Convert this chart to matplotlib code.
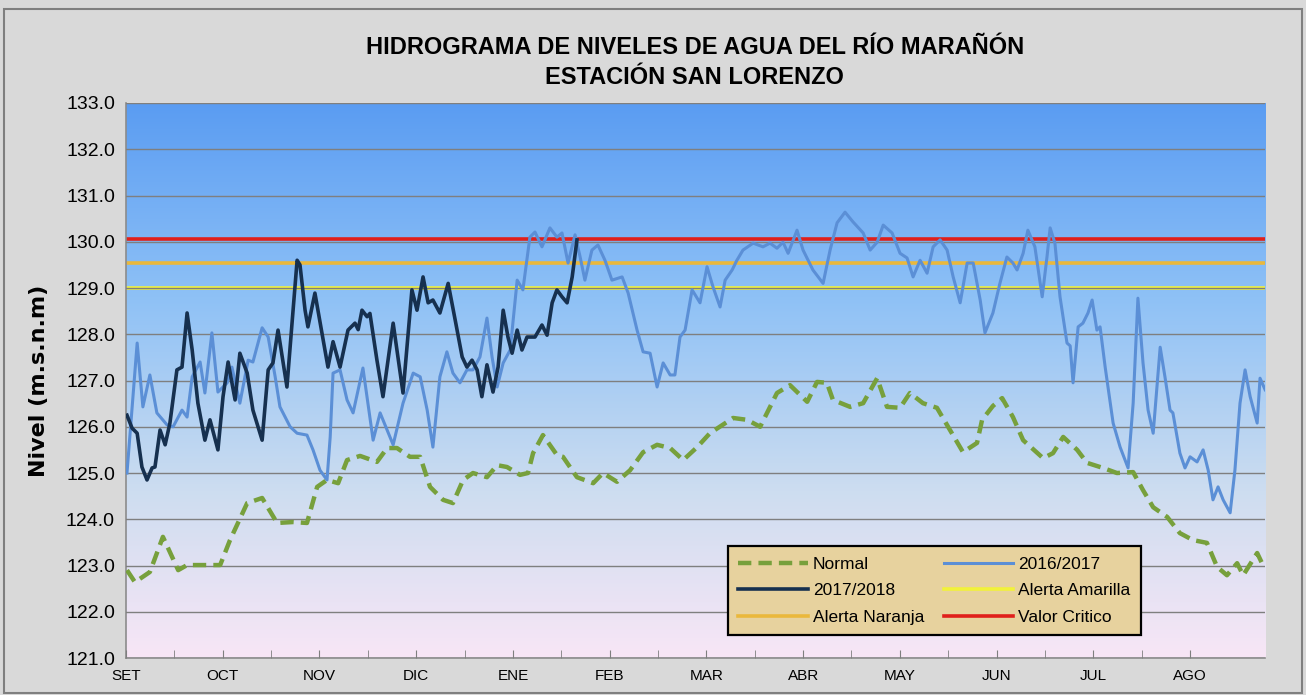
"""Hidrograma de niveles de agua del río Marañón - estación San Lorenzo."""
import numpy as np
import matplotlib

matplotlib.use("Agg")
import matplotlib.pyplot as plt  # noqa: E402
from matplotlib.colors import LinearSegmentedColormap  # noqa: E402
from matplotlib.patches import Rectangle  # noqa: E402

plt.rcParams["font.family"] = ["Liberation Sans", "DejaVu Sans"]

# --- datos (día desde el 1 de setiembre, nivel en m.s.n.m) ---
MONTHS = ["SET", "OCT", "NOV", "DIC", "ENE", "FEB", "MAR", "ABR", "MAY", "JUN", "JUL", "AGO"]

normal_day = [0.3, 2.8, 7.5, 11.6, 16.4, 19.2, 25.5, 29.6, 32.7, 38.1, 42.8, 47.5, 52.5, 56.9,
              60.1, 63.2, 66.7, 69.5, 73.6, 78.9, 82.1, 85.2, 89.3, 92.5, 95.6, 99.7, 102.8,
              106.0, 109.1, 113.5, 116.7, 119.8, 123.9, 126.4, 128.0, 131.1, 135.5, 137.4,
              141.8, 146.9, 150.0, 154.4, 158.5, 162.6, 167.0, 171.1, 175.2, 179.6, 183.6,
              190.9, 195.3, 199.4, 204.7, 208.8, 214.2, 217.3, 220.4, 222.3, 227.7, 231.8,
              236.2, 239.3, 243.4, 246.5, 250.6, 255.0, 259.1, 263.2, 267.6, 269.2, 272.6,
              275.5, 278.9, 282.1, 288.4, 291.5, 294.7, 299.1, 302.2, 307.2, 311.6, 316.7,
              319.8, 323.0, 327.4, 331.4, 335.5, 339.9, 343.1, 346.2, 349.4, 351.3, 355.7, 357.5]
normal_lvl = [122.90, 122.64, 122.86, 123.62, 122.90, 123.01, 123.01, 123.01, 123.55, 124.35,
              124.46, 123.92, 123.94, 123.92, 124.70, 124.85, 124.78, 125.28, 125.37, 125.24,
              125.54, 125.54, 125.35, 125.35, 124.70, 124.42, 124.35, 124.85, 125.00, 124.91,
              125.17, 125.13, 124.96, 125.00, 125.43, 125.82, 125.39, 125.35, 124.91, 124.78,
              125.00, 124.81, 125.06, 125.45, 125.61, 125.54, 125.28, 125.56, 125.86, 126.19,
              126.15, 126.00, 126.73, 126.90, 126.54, 126.97, 126.95, 126.58, 126.43, 126.51,
              127.05, 126.43, 126.41, 126.73, 126.51, 126.41, 125.93, 125.45, 125.65, 126.15,
              126.45, 126.62, 126.21, 125.71, 125.32, 125.43, 125.78, 125.50, 125.22, 125.11,
              125.00, 125.02, 124.63, 124.26, 124.05, 123.70, 123.55, 123.49, 122.97, 122.79,
              123.05, 122.79, 123.27, 123.01]

y1617_day = [0.3, 3.5, 5.3, 7.5, 9.7, 12.9, 14.8, 17.6, 19.2, 20.8, 23.3, 24.8, 27.0, 28.9,
             31.8, 33.3, 35.8, 38.4, 39.9, 42.8, 44.7, 46.9, 48.4, 51.6, 53.8, 56.9, 58.8,
             61.0, 63.2, 64.2, 65.1, 67.3, 69.5, 71.4, 74.5, 77.7, 79.9, 82.1, 84.0, 87.1,
             90.3, 92.5, 94.7, 96.5, 98.7, 100.9, 102.8, 105.0, 107.2, 109.1, 111.3, 113.5,
             115.1, 116.7, 118.6, 120.8, 123.0, 124.8, 127.0, 128.6, 130.8, 133.3, 135.5,
             137.1, 139.0, 141.2, 142.8, 144.3, 146.5, 148.4, 150.6, 152.8, 156.0, 157.9,
             160.7, 162.6, 164.8, 167.0, 168.9, 171.1, 172.6, 174.2, 175.8, 178.0, 180.5,
             182.7, 184.6, 186.8, 188.4, 190.6, 192.1, 194.0, 197.2, 200.3, 202.5, 204.7,
             206.6, 208.2, 211.0, 212.9, 216.0, 219.2, 221.4, 223.6, 226.1, 228.6, 231.8,
             234.0, 236.2, 238.1, 240.9, 243.4, 245.6, 247.5, 249.7, 251.9, 253.8, 256.0,
             258.2, 260.1, 262.3, 264.5, 266.4, 268.6, 270.1, 272.6, 274.8, 277.0, 278.9,
             280.2, 282.1, 283.6, 285.8, 288.1, 289.6, 290.6, 292.1, 293.7, 295.9, 296.9,
             297.8, 299.4, 300.9, 302.5, 303.8, 305.3, 306.3, 307.9, 310.4, 312.6, 315.1,
             316.7, 318.2, 319.8, 321.4, 323.0, 325.2, 326.7, 328.3, 329.2, 331.4, 333.0,
             334.6, 336.8, 338.7, 340.3, 341.8, 343.4, 345.0, 347.2, 348.7, 350.3, 351.9,
             353.5, 355.7, 356.6, 358.2]
y1617_lvl = [125.00, 127.81, 126.43, 127.12, 126.30, 126.04, 126.00, 126.36, 126.21, 127.08,
             127.40, 126.73, 128.03, 126.75, 126.95, 127.29, 126.51, 127.44, 127.40, 128.14,
             127.94, 127.08, 126.43, 126.00, 125.86, 125.82, 125.50, 125.06, 124.85, 125.78,
             127.16, 127.23, 126.58, 126.30, 127.27, 125.71, 126.30, 125.93, 125.61, 126.51,
             127.16, 127.08, 126.36, 125.56, 127.08, 127.62, 127.16, 126.95, 127.23, 127.23,
             127.51, 128.35, 127.51, 126.86, 127.38, 127.66, 129.17, 128.96, 130.10, 130.21,
             129.89, 130.30, 130.10, 130.19, 129.54, 130.15, 129.67, 129.17, 129.82, 129.93,
             129.60, 129.17, 129.24, 128.89, 128.09, 127.62, 127.59, 126.86, 127.38, 127.12,
             127.12, 127.94, 128.09, 128.96, 128.68, 129.46, 129.02, 128.59, 129.17, 129.39,
             129.60, 129.82, 129.97, 129.89, 129.97, 129.86, 129.99, 129.75, 130.25, 129.82,
             129.39, 129.10, 129.82, 130.41, 130.64, 130.43, 130.19, 129.82, 129.99, 130.36,
             130.19, 129.75, 129.65, 129.24, 129.60, 129.32, 129.89, 130.04, 129.82, 129.24,
             128.68, 129.54, 129.54, 128.74, 128.03, 128.46, 129.10, 129.67, 129.54, 129.39,
             129.75, 130.25, 129.89, 128.81, 129.67, 130.30, 129.97, 128.81, 127.81, 127.75,
             126.95, 128.16, 128.24, 128.46, 128.74, 128.09, 128.16, 127.29, 126.08, 125.56,
             125.11, 126.51, 128.78, 127.38, 126.36, 125.86, 127.72, 127.08, 126.36, 126.30,
             125.43, 125.11, 125.35, 125.24, 125.50, 125.06, 124.42, 124.70, 124.42, 124.14,
             125.06, 126.51, 127.23, 126.65, 126.08, 127.05, 126.80]

y1718_day = [0.3, 1.9, 3.5, 5.0, 6.6, 8.2, 9.1, 10.7, 12.3, 13.8, 16.0, 17.6, 19.2, 20.8,
             22.6, 24.8, 26.4, 28.9, 30.5, 32.1, 34.3, 35.8, 38.1, 39.9, 42.8, 44.7, 46.2,
             47.8, 50.6, 52.2, 53.8, 54.7, 56.3, 57.2, 59.4, 61.6, 63.5, 65.1, 67.3, 69.8,
             72.0, 73.0, 74.2, 75.8, 76.7, 78.9, 80.8, 84.0, 87.1, 89.9, 91.5, 93.4, 95.0,
             96.5, 98.7, 101.3, 103.5, 105.7, 107.2, 108.8, 110.4, 111.9, 113.5, 115.4,
             117.0, 118.6, 120.1, 121.4, 123.0, 124.5, 126.1, 128.6, 130.8, 132.4, 134.0,
             135.5, 137.1, 138.7, 140.3, 141.8]
y1718_lvl = [126.25, 125.97, 125.86, 125.13, 124.85, 125.11, 125.13, 125.93, 125.61, 126.08,
             127.23, 127.29, 128.46, 127.66, 126.51, 125.71, 126.15, 125.50, 126.65, 127.40,
             126.58, 127.59, 127.16, 126.36, 125.71, 127.23, 127.38, 128.09, 126.86, 128.24,
             129.60, 129.50, 128.52, 128.16, 128.89, 128.03, 127.29, 127.84, 127.29, 128.09,
             128.24, 128.10, 128.52, 128.38, 128.45, 127.44, 126.65, 128.24, 126.73, 128.96,
             128.52, 129.24, 128.68, 128.74, 128.46, 129.10, 128.31, 127.51, 127.29, 127.44,
             127.23, 126.65, 127.34, 126.75, 127.29, 128.52, 127.94, 127.59, 128.09, 127.66,
             127.94, 127.94, 128.20, 127.98, 128.68, 128.96, 128.81, 128.68, 129.24, 130.04]

ALERTA_AMARILLA = 129.0
ALERTA_NARANJA = 129.55
VALOR_CRITICO = 130.05

DAYS_PER_MONTH = 365 / 12
X_END = 358.2

fig = plt.figure(figsize=(13.06, 6.95), dpi=100, facecolor="#d9d9d9")
fig.patches.append(Rectangle((0.003, 0.003), 0.994, 0.984, transform=fig.transFigure,
                             fill=False, edgecolor="#7f7f7f", linewidth=1.5))
ax = fig.add_axes([0.0965, 0.0532, 0.8722, 0.7986])

# fondo degradado azul -> rosa
grad = LinearSegmentedColormap.from_list(
    "fondo", [(0.0, "#5a9cf2"), (0.35, "#8ec1f6"), (0.7, "#cdddf0"), (1.0, "#f8e6f6")])
ax.imshow(np.linspace(0, 1, 256).reshape(-1, 1), cmap=grad, aspect="auto",
          extent=[0, 1, 0, 1], transform=ax.transAxes, zorder=0)

ax.set_xlim(0, X_END)
ax.set_ylim(121, 133)
ax.set_yticks(np.arange(121, 133.5, 1))
ax.yaxis.set_major_formatter(matplotlib.ticker.FormatStrFormatter("%.1f"))
ax.grid(axis="y", color="#7f7f7f", linewidth=1.0, zorder=1)
ax.set_axisbelow(False)

ax.set_xticks([i * DAYS_PER_MONTH for i in range(len(MONTHS))])
ax.set_xticklabels(MONTHS)
ax.set_xticks([(i + 0.5) * DAYS_PER_MONTH for i in range(len(MONTHS) - 1)], minor=True)
ax.tick_params(axis="x", which="both", direction="in", length=6, color="#7f7f7f",
               labelsize=11, pad=8)
ax.tick_params(axis="y", length=0, labelsize=14, pad=8)
for s in ["top", "right"]:
    ax.spines[s].set_visible(False)
for s in ["left", "bottom"]:
    ax.spines[s].set_color("#8c8c8c")
    ax.spines[s].set_linewidth(1.2)

h_norm, = ax.plot(normal_day, normal_lvl, color="#77a03c", lw=3.2, dashes=(3, 1.6),
                  label="Normal", zorder=3)
h_1617, = ax.plot(y1617_day, y1617_lvl, color="#5b8fd6", lw=2.2, label="2016/2017", zorder=3)
h_1718, = ax.plot(y1718_day, y1718_lvl, color="#16304f", lw=2.6, label="2017/2018", zorder=4)
h_am = ax.axhline(ALERTA_AMARILLA, color="#f2f23a", lw=2.6, label="Alerta Amarilla", zorder=2)
h_na = ax.axhline(ALERTA_NARANJA, color="#eab83c", lw=2.6, label="Alerta Naranja", zorder=2)
h_cr = ax.axhline(VALOR_CRITICO, color="#e0201b", lw=2.6, label="Valor Critico", zorder=2)

leg = ax.legend([h_norm, h_1718, h_na, h_1617, h_am, h_cr],
                ["Normal", "2017/2018", "Alerta Naranja", "2016/2017", "Alerta Amarilla",
                 "Valor Critico"],
                ncol=2, loc="lower left", bbox_to_anchor=(0.5285, 0.0414, 0.3625, 0.2253),
                mode="expand", fancybox=False, framealpha=1, facecolor="#e7d29e",
                edgecolor="black", fontsize=12.5, handlelength=4.0, borderaxespad=0,
                borderpad=0.6, labelspacing=0.65, handletextpad=0.3, columnspacing=1.0)
leg.get_frame().set_linewidth(1.6)
leg.set_zorder(5)

ax.set_ylabel("Nivel (m.s.n.m)", fontsize=16, fontweight="bold",
              family=["DejaVu Sans"], labelpad=12)
fig.text(0.532, 0.91, "HIDROGRAMA DE NIVELES DE AGUA DEL RÍO MARAÑÓN\nESTACIÓN SAN LORENZO",
         ha="center", va="center", fontsize=17, fontweight="bold", linespacing=1.4)

fig.savefig("out.png", dpi=100, facecolor=fig.get_facecolor())
